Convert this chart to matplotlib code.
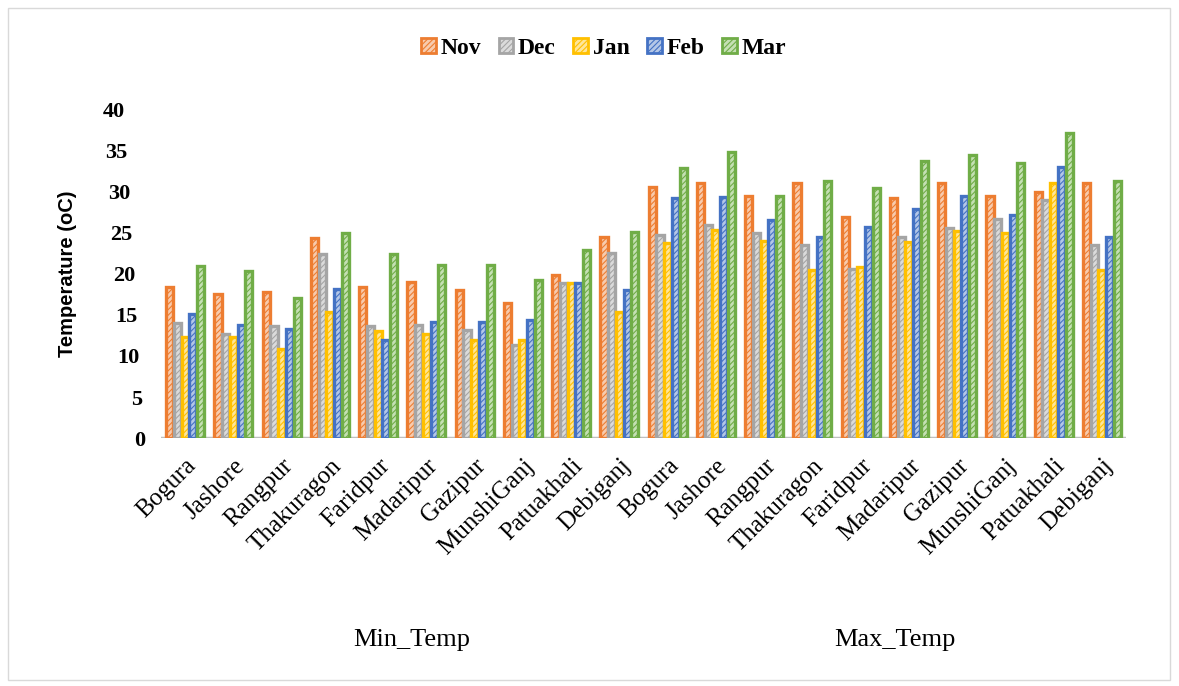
import matplotlib
matplotlib.use("Agg")
import matplotlib.pyplot as plt
import matplotlib.transforms as mtransforms
from matplotlib.patches import Rectangle, Patch
import numpy as np

stations = ["Bogura", "Jashore", "Rangpur", "Thakuragon", "Faridpur", "Madaripur",
            "Gazipur", "MunshiGanj", "Patuakhali", "Debiganj"]
categories = stations + stations
months = ["Nov", "Dec", "Jan", "Feb", "Mar"]
colors = ["#ED7D31", "#A5A5A5", "#FFC000", "#4472C4", "#70AD47"]
light = ["#F8CBAD", "#DBDBDB", "#FFE699", "#B4C7E7", "#C5E0B4"]

# min temps (first 10) then max temps (last 10)
nov = [18.4, 17.6, 17.8, 24.4, 18.4, 19.0, 18.0, 16.5, 19.9, 24.5,
       30.6, 31.1, 29.5, 31.1, 27.0, 29.3, 31.1, 29.5, 30.0, 31.1]
dec = [14.0, 12.7, 13.7, 22.4, 13.7, 13.8, 13.2, 11.3, 18.9, 22.6,
       24.8, 26.0, 25.0, 23.5, 20.6, 24.5, 25.6, 26.7, 29.0, 23.5]
jan = [12.3, 12.3, 10.9, 15.4, 13.0, 12.7, 12.0, 12.0, 18.9, 15.4,
       23.8, 25.4, 24.0, 20.5, 20.9, 23.9, 25.2, 25.0, 31.1, 20.5]
feb = [15.1, 13.8, 13.3, 18.2, 12.0, 14.1, 14.1, 14.4, 18.9, 18.0,
       29.3, 29.4, 26.6, 24.5, 25.7, 27.9, 29.5, 27.2, 33.0, 24.5]
mar = [21.0, 20.4, 17.1, 25.0, 22.4, 21.1, 21.1, 19.3, 22.9, 25.1,
       32.9, 34.9, 29.5, 31.3, 30.5, 33.8, 34.5, 33.5, 37.2, 31.3]
series = [nov, dec, jan, feb, mar]
groups = ["Min_Temp", "Max_Temp"]
yticks = [0, 5, 10, 15, 20, 25, 30, 35, 40]

plt.rcParams['hatch.linewidth'] = 0.8
fig = plt.figure(figsize=(11.79, 6.86), dpi=100)
ax = fig.add_axes([0.1366, 0.3615, 0.8185, 0.4782])

x = np.arange(len(categories))
w = 0.16
for i, vals in enumerate(series):
    pos = x + (i - 2) * w
    ax.bar(pos, vals, w * 0.92, color=light[i], edgecolor=colors[i], hatch='//////', linewidth=0)
    ax.bar(pos, vals, w * 0.92, fill=False, edgecolor=colors[i], linewidth=2.4)

ax.axhline(0, color="#BFBFBF", lw=2.5, zorder=0)
ax.set_xlim(-0.5, len(categories) - 0.5)
ax.set_ylim(0, 40)
ax.set_yticks(yticks)
ax.set_yticklabels([str(t) for t in yticks], fontfamily="Liberation Serif",
                   fontweight="bold", fontsize=16)
ax.tick_params(axis='y', length=0, pad=26)
# slanted axis look: lower labels sit a bit further right
for t, lab in zip(yticks, ax.get_yticklabels()):
    dx = (40 - t) / 40 * 0.2
    lab.set_transform(lab.get_transform() + mtransforms.ScaledTranslation(dx, 0, fig.dpi_scale_trans))
ax.set_xticks(x)
ax.set_xticklabels(categories, rotation=45, ha='right', rotation_mode='anchor',
                   fontfamily="Liberation Serif", fontsize=18)
ax.tick_params(axis='x', length=0, pad=12)
for s in ax.spines.values():
    s.set_visible(False)
ax.set_ylabel("Temperature (oC)", fontfamily="Liberation Sans", fontweight="bold",
              fontsize=14.5)
ax.yaxis.set_label_coords(-0.087, 0.5)

trans = mtransforms.blended_transform_factory(ax.transData, fig.transFigure)
ax.text(4.7, 1 - 640 / 686, groups[0], transform=trans, ha='center', va='center',
        fontfamily="Liberation Serif", fontsize=19)
ax.text(14.7, 1 - 640 / 686, groups[1], transform=trans, ha='center', va='center',
        fontfamily="Liberation Serif", fontsize=19)

handles = [Patch(facecolor=light[i], edgecolor=colors[i], hatch='//////', linewidth=2)
           for i in range(5)]
fig.legend(handles, months, loc='center', bbox_to_anchor=(0.512, 0.93), ncol=5,
           frameon=False, prop={'family': 'Liberation Serif', 'weight': 'bold', 'size': 17},
           handlelength=0.62, handleheight=0.62, handletextpad=0.2, columnspacing=0.75)

fig.patches.append(Rectangle((8 / 1179, 6 / 686), 1162 / 1179, 672 / 686, fill=False,
                             edgecolor="#D9D9D9", lw=1, transform=fig.transFigure))

fig.savefig("out.png", dpi=100)
